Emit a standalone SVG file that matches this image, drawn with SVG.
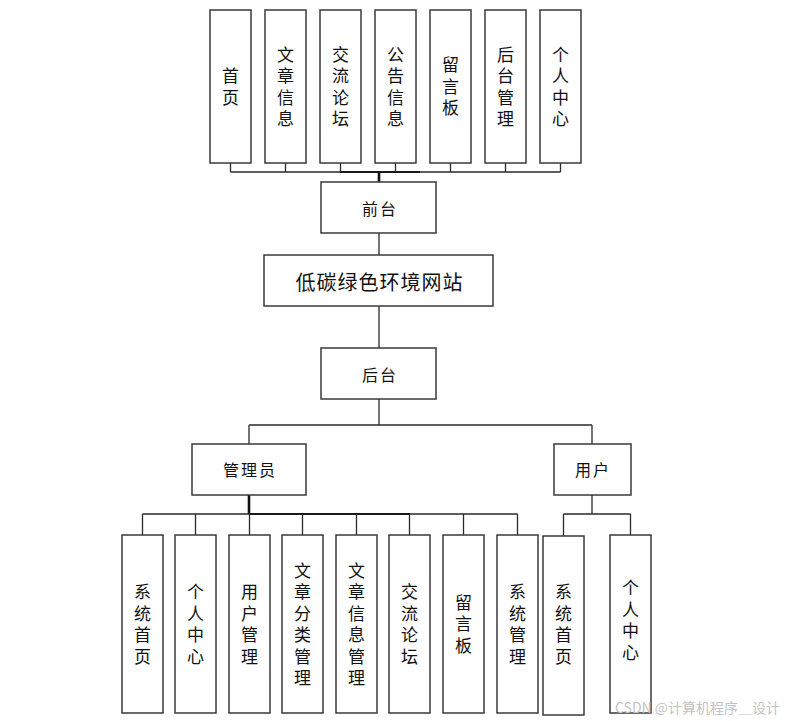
<svg xmlns="http://www.w3.org/2000/svg" width="786" height="721" viewBox="0 0 786 721">
<style>
.box{fill:#fff;stroke:#3a3a3a;stroke-width:1.5}
.ln{fill:none;stroke:#2a2a2a;stroke-width:1.3}
.thick{fill:none;stroke:#111;stroke-width:2.6}
.mid{fill:none;stroke:#1a1a1a;stroke-width:2}
text{font-family:"Noto Sans CJK SC","Liberation Sans",sans-serif;fill:#111;text-anchor:middle;dominant-baseline:central}
.v{font-size:17px;writing-mode:vertical-rl;letter-spacing:4.5px}
.h{font-size:16px;letter-spacing:2px}
.wm{font-size:14px;fill:#c4c4c4;text-anchor:start}
</style>
<rect width="786" height="721" fill="#fff"/>
<g id="connectors">
<path class="ln" d="M230.5 163V172M285.5 163V172M340.5 163V172M395.5 163V172M450.5 163V172M505.5 163V172M560.5 163V172M230.5 172H560.5"/>
<path class="mid" d="M340 172H420"/>
<path class="thick" d="M379 172V182"/>
<path class="ln" d="M379 233V255M379 306V348M379 399V425M249 425H592M249 425V444M592 425V444"/>
<path class="ln" d="M142.5 514H517.5M142.5 514V535M195.5 514V535M249.5 514V535M302.5 514V535M356.5 514V535M409.5 514V535M463.5 514V535M517.5 514V535"/>
<path class="mid" d="M249 514H410"/>
<path class="thick" d="M249 495V514"/>
<path class="ln" d="M592 495V514M563.5 514H630.5M563.5 514V536M630.5 514V535"/>
</g>
<g id="top1"><rect class="box" x="210" y="10" width="41" height="153"/><text class="v" x="230.5" y="88.75">首页</text></g>
<g id="top2"><rect class="box" x="265" y="10" width="41" height="153"/><text class="v" x="285.5" y="88.75">文章信息</text></g>
<g id="top3"><rect class="box" x="320" y="10" width="41" height="153"/><text class="v" x="340.5" y="88.75">交流论坛</text></g>
<g id="top4"><rect class="box" x="375" y="10" width="41" height="153"/><text class="v" x="395.5" y="88.75">公告信息</text></g>
<g id="top5"><rect class="box" x="430" y="10" width="41" height="153"/><text class="v" x="450.5" y="88.75">留言板</text></g>
<g id="top6"><rect class="box" x="485" y="10" width="41" height="153"/><text class="v" x="505.5" y="88.75">后台管理</text></g>
<g id="top7"><rect class="box" x="540" y="10" width="41" height="153"/><text class="v" x="560.5" y="88.75">个人中心</text></g>
<g id="qiantai"><rect class="box" x="321" y="182" width="115" height="51"/><text class="h" x="380" y="208">前台</text></g>
<g id="site"><rect class="box" x="264" y="255" width="229" height="51"/><text x="379.5" y="281" style="font-size:20px;letter-spacing:1px">低碳绿色环境网站</text></g>
<g id="houtai"><rect class="box" x="321" y="348" width="115" height="51"/><text class="h" x="380" y="374">后台</text></g>
<g id="admin"><rect class="box" x="192" y="444" width="114" height="51"/><text class="h" x="250" y="469">管理员</text></g>
<g id="user"><rect class="box" x="554" y="444" width="77" height="51"/><text class="h" x="593" y="469">用户</text></g>
<g id="b1"><rect class="box" x="122" y="535" width="41" height="178"/><text class="v" x="142.5" y="626.25">系统首页</text></g>
<g id="b2"><rect class="box" x="175" y="535" width="41" height="178"/><text class="v" x="195.5" y="626.25">个人中心</text></g>
<g id="b3"><rect class="box" x="229" y="535" width="41" height="178"/><text class="v" x="249.5" y="626.25">用户管理</text></g>
<g id="b4"><rect class="box" x="282" y="535" width="41" height="178"/><text class="v" x="302.5" y="626.25">文章分类管理</text></g>
<g id="b5"><rect class="box" x="336" y="535" width="41" height="178"/><text class="v" x="356.5" y="626.25">文章信息管理</text></g>
<g id="b6"><rect class="box" x="389" y="535" width="41" height="178"/><text class="v" x="409.5" y="626.25">交流论坛</text></g>
<g id="b7"><rect class="box" x="443" y="535" width="41" height="178"/><text class="v" x="463.5" y="626.25">留言板</text></g>
<g id="b8"><rect class="box" x="497" y="535" width="41" height="178"/><text class="v" x="517.5" y="626.25">系统管理</text></g>
<g id="u1"><rect class="box" x="543" y="536" width="41" height="179"/><text class="v" x="563.5" y="626.25">系统首页</text></g>
<g id="u2"><rect class="box" x="610" y="535" width="41" height="178"/><text class="v" x="630.5" y="622.5">个人中心</text></g>
<text class="wm" x="615" y="707">CSDN @计算机程序＿设计</text>
</svg>
